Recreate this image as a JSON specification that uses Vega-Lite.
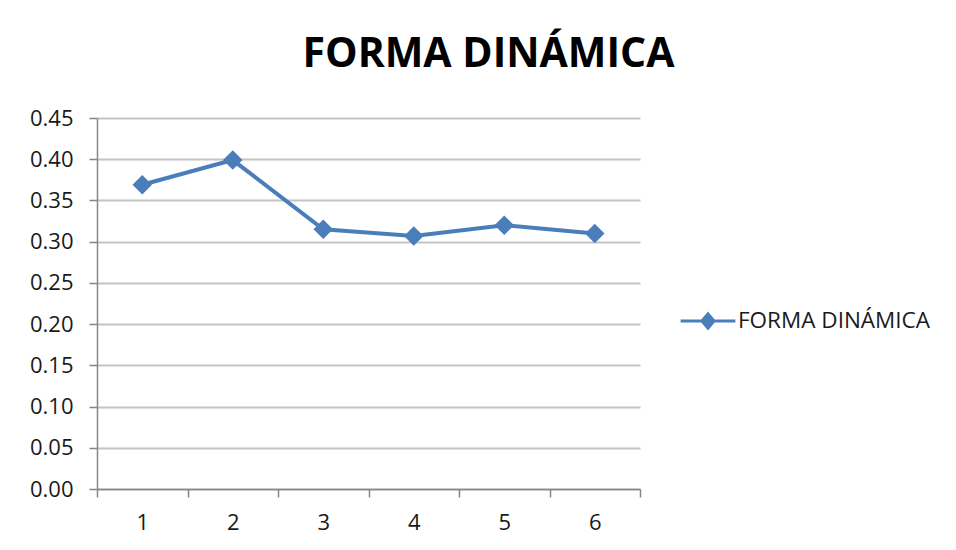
{
  "$schema": "https://vega.github.io/schema/vega-lite/v6.json",
  "width": 543,
  "height": 371,
  "autosize": {"type": "none"},
  "padding": {"left": 97, "top": 118, "right": 316, "bottom": 61},
  "background": "white",
  "title": {
    "text": "FORMA DINÁMICA",
    "font": "Open Sans",
    "fontSize": 41,
    "fontWeight": "bold",
    "color": "#000000",
    "anchor": "middle",
    "frame": "group",
    "dx": 120,
    "dy": 35,
    "baseline": "alphabetic",
    "offset": 34
  },
  "data": {
    "values": [
      {"x": "1", "valor": 0.369, "serie": "FORMA DINÁMICA"},
      {"x": "2", "valor": 0.399, "serie": "FORMA DINÁMICA"},
      {"x": "3", "valor": 0.315, "serie": "FORMA DINÁMICA"},
      {"x": "4", "valor": 0.307, "serie": "FORMA DINÁMICA"},
      {"x": "5", "valor": 0.320, "serie": "FORMA DINÁMICA"},
      {"x": "6", "valor": 0.310, "serie": "FORMA DINÁMICA"}
    ]
  },
  "mark": {
    "type": "line",
    "strokeWidth": 4,
    "point": {"filled": true, "shape": "diamond", "size": 380, "opacity": 1}
  },
  "encoding": {
    "x": {
      "field": "x",
      "type": "ordinal",
      "scale": {"type": "band", "paddingInner": 0, "paddingOuter": 0},
      "axis": {
        "title": null,
        "labelAngle": 0,
        "tickBand": "extent",
        "grid": false,
        "domainColor": "#868686",
        "domainWidth": 1.5,
        "tickColor": "#868686",
        "tickWidth": 1.5,
        "tickSize": 8,
        "labelPadding": 15,
        "labelFont": "Open Sans",
        "labelFontSize": 22,
        "labelColor": "#1a1a1a"
      }
    },
    "y": {
      "field": "valor",
      "type": "quantitative",
      "scale": {"domain": [0, 0.45], "nice": false},
      "axis": {
        "title": null,
        "values": [0, 0.05, 0.1, 0.15, 0.2, 0.25, 0.3, 0.35, 0.4, 0.45],
        "format": ".2f",
        "grid": true,
        "gridColor": "#C4C4C4",
        "gridWidth": 2,
        "domainColor": "#868686",
        "domainWidth": 1.5,
        "tickColor": "#868686",
        "tickWidth": 1.5,
        "tickSize": 8,
        "labelPadding": 16,
        "labelFont": "Open Sans",
        "labelFontSize": 22,
        "labelColor": "#1a1a1a"
      }
    },
    "color": {
      "field": "serie",
      "type": "nominal",
      "scale": {"range": ["#4A7EBB"]},
      "legend": {
        "title": null,
        "orient": "none",
        "legendX": 582,
        "legendY": 174,
        "symbolType": "M-1,0L1,0M0,-0.26L0.22,0L0,0.26L-0.22,0Z",
        "symbolSize": 3000,
        "symbolStrokeWidth": 3,
        "symbolFillColor": "#4A7EBB",
        "symbolStrokeColor": "#4A7EBB",
        "labelFont": "Open Sans",
        "labelFontSize": 22.5,
        "labelLimit": 400,
        "labelColor": "#1a1a1a",
        "labelOffset": 1,
        "encode": {"symbols": {"update": {"fill": {"value": "#4A7EBB"}, "stroke": {"value": "#4A7EBB"}, "opacity": {"value": 1}}}}
      }
    }
  },
  "config": {"view": {"stroke": null}}
}
